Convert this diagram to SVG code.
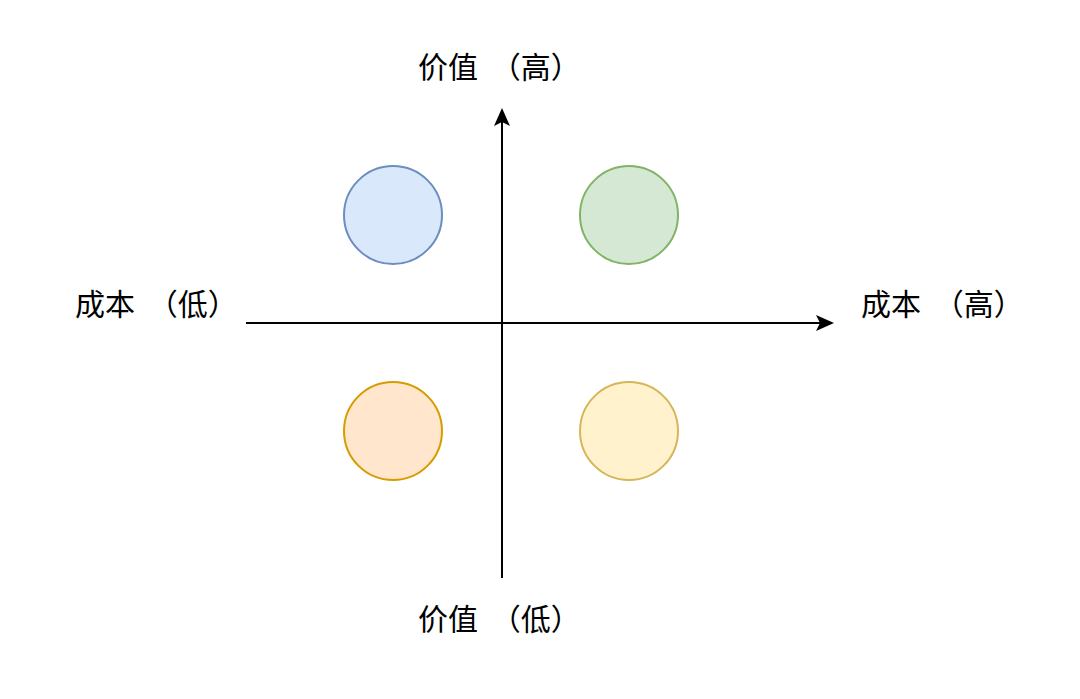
<svg xmlns="http://www.w3.org/2000/svg" width="1080" height="699" viewBox="0 0 1080 699">
<style>
.lbl{font-family:"Noto Sans CJK SC","Noto Sans",sans-serif;font-size:30px;fill:#000}
.ax{stroke:#000;stroke-width:2;fill:none}
.c{stroke-width:2}
</style>
<defs>
<marker id="arr" viewBox="0 0 18 16" refX="16" refY="8" markerWidth="18" markerHeight="16" markerUnits="userSpaceOnUse" orient="auto">
<path d="M0,0 L18,8 L0,16 L4,8 Z" fill="#000"/>
</marker>
</defs>
<rect width="1080" height="699" fill="#fff"/>
<g id="connectors">
<line class="ax" x1="502" y1="578" x2="502" y2="110" marker-end="url(#arr)"/>
<line class="ax" x1="246" y1="323" x2="832" y2="323" marker-end="url(#arr)"/>
</g>
<g id="q1"><circle class="c" cx="393" cy="215" r="49" fill="#dae8fc" stroke="#6c8ebf"/></g>
<g id="q2"><circle class="c" cx="629" cy="215" r="49" fill="#d5e8d4" stroke="#82b366"/></g>
<g id="q3"><circle class="c" cx="393" cy="431" r="49" fill="#ffe6cc" stroke="#d79b00"/></g>
<g id="q4"><circle class="c" cx="629" cy="431" r="49" fill="#fff2cc" stroke="#d6b656"/></g>
<g id="label-top"><text class="lbl" x="418" y="78">价值 <tspan dx="6">（高）</tspan></text></g>
<g id="label-bottom"><text class="lbl" x="418" y="630">价值 <tspan dx="6">（低）</tspan></text></g>
<g id="label-left"><text class="lbl" x="75" y="315">成本 <tspan dx="6">（低）</tspan></text></g>
<g id="label-right"><text class="lbl" x="861" y="315">成本 <tspan dx="6">（高）</tspan></text></g>
</svg>
